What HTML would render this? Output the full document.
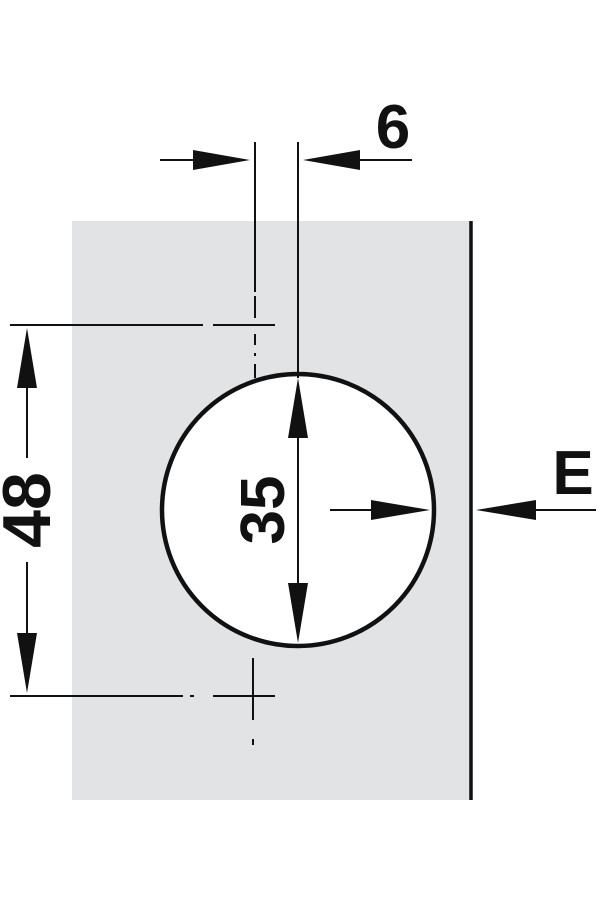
<!DOCTYPE html>
<html><head><style>html,body{margin:0;padding:0;background:#fff}svg{display:block}</style></head>
<body>
<svg width="600" height="900" viewBox="0 0 600 900" xmlns="http://www.w3.org/2000/svg">
<rect x="72" y="221" width="399" height="579" fill="#e2e3e5"/>
<line x1="471" y1="221" x2="471" y2="800" stroke="#111" stroke-width="3.5"/>
<circle cx="298" cy="510" r="136" fill="#fff" stroke="#111" stroke-width="4.5"/>
<g stroke="#111" stroke-width="2" fill="none">
<line x1="255" y1="142" x2="255" y2="292"/>
<line x1="255" y1="296" x2="255" y2="318"/>
<line x1="255" y1="334" x2="255" y2="345"/>
<line x1="255" y1="353" x2="255" y2="356"/>
<line x1="255" y1="364" x2="255" y2="378"/>
<line x1="298" y1="142" x2="298" y2="378"/>
<line x1="160" y1="160" x2="200" y2="160"/>
<line x1="350" y1="160" x2="412" y2="160"/>
<line x1="10" y1="325" x2="203" y2="325"/>
<line x1="213" y1="325" x2="275" y2="325"/>
<line x1="10" y1="696" x2="183" y2="696"/>
<line x1="190" y1="696" x2="194" y2="696"/>
<line x1="213" y1="696" x2="275" y2="696"/>
<line x1="253" y1="658" x2="253" y2="720"/>
<line x1="253" y1="739" x2="253" y2="745"/>
<line x1="27" y1="380" x2="27" y2="458"/>
<line x1="27" y1="562" x2="27" y2="640"/>
<line x1="298" y1="420" x2="298" y2="600"/>
<line x1="330" y1="510" x2="380" y2="510"/>
<line x1="530" y1="510" x2="596" y2="510"/>
</g>
<g fill="#111">
<polygon points="250,160 193,150 193,170"/>
<polygon points="303,160 360,150 360,170"/>
<polygon points="27,328 17,388 37,388"/>
<polygon points="27,693 17,633 37,633"/>
<polygon points="298,378 288,438 308,438"/>
<polygon points="298,643 288,583 308,583"/>
<polygon points="430,510 371,500 371,520"/>
<polygon points="476,510 536,500 536,520"/>
</g>
<g font-family="Liberation Sans, sans-serif" font-weight="bold" fill="#111">
<text x="393" y="148" font-size="62" text-anchor="middle">6</text>
<text x="573" y="494" font-size="62" text-anchor="middle">E</text>
<text transform="translate(50,510) rotate(-90)" font-size="68" text-anchor="middle">48</text>
<text transform="translate(284,510) rotate(-90)" font-size="62" text-anchor="middle">35</text>
</g>
</svg>
</body></html>
